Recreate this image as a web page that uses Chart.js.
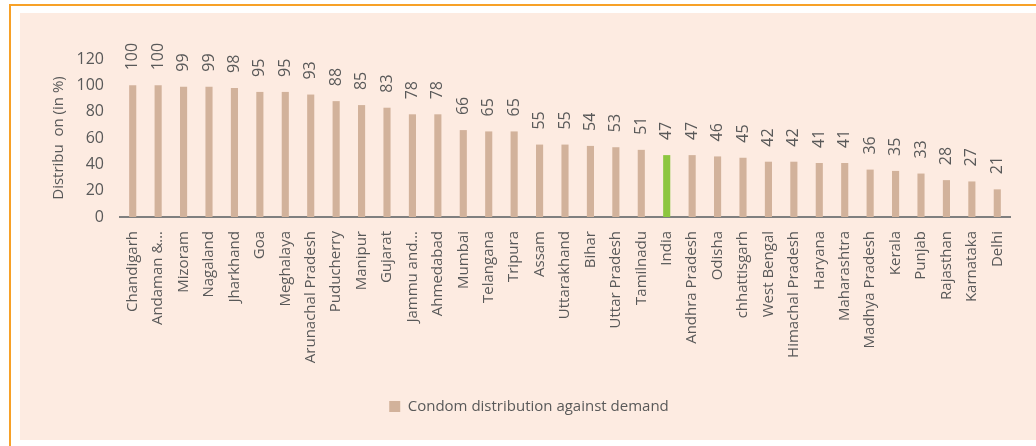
<!DOCTYPE html>
<html>
<head>
<meta charset="utf-8">
<script src="https://cdn.jsdelivr.net/npm/chart.js"></script>
<style>
  html, body { margin: 0; padding: 0; background: #fff; width: 1036px; height: 446px; overflow: hidden; }
  #frame { position: absolute; left: 9px; top: 4px; width: 1040px; height: 460px;
           border-left: 2px solid #f7a128; border-top: 2px solid #f7a128; }
  #panel { position: absolute; left: 20px; top: 13px; width: 1016px; height: 427px; background: #fdebe1; }
  #chart { position: absolute; left: 0; top: 0; }
</style>
</head>
<body>
<div id="frame"></div>
<div id="panel"></div>
<canvas id="chart" width="1036" height="446"></canvas>
<script>
const states = ['Chandigarh', 'Andaman &…', 'Mizoram', 'Nagaland', 'Jharkhand', 'Goa', 'Meghalaya',
  'Arunachal Pradesh', 'Puducherry', 'Manipur', 'Gujarat', 'Jammu and…', 'Ahmedabad', 'Mumbai',
  'Telangana', 'Tripura', 'Assam', 'Uttarakhand', 'Bihar', 'Uttar Pradesh', 'Tamilnadu', 'India',
  'Andhra Pradesh', 'Odisha', 'chhattisgarh', 'West Bengal', 'Himachal Pradesh', 'Haryana',
  'Maharashtra', 'Madhya Pradesh', 'Kerala', 'Punjab', 'Rajasthan', 'Karnataka', 'Delhi'];
const distribution = [100, 100, 99, 99, 98, 95, 95, 93, 88, 85, 83, 78, 78, 66, 65, 65, 55, 55, 54, 53,
  51, 47, 47, 46, 45, 42, 42, 41, 41, 36, 35, 33, 28, 27, 21];
const yTicks = [0, 20, 40, 60, 80, 100, 120];

const tan = '#d2b29b';
const green = '#8dc63f';
const grey = '#595959';
const fontFamily = '"Open Sans", sans-serif';

const barColors = states.map(s => s === 'India' ? green : tan);

// rotated value labels above each bar
const valueLabels = {
  id: 'valueLabels',
  afterDatasetsDraw(chart) {
    const ctx = chart.ctx;
    const meta = chart.getDatasetMeta(0);
    ctx.save();
    ctx.fillStyle = grey;
    ctx.font = '16px ' + fontFamily;
    ctx.textAlign = 'left';
    ctx.textBaseline = 'middle';
    meta.data.forEach((bar, i) => {
      ctx.save();
      ctx.translate(bar.x, bar.y - 15);
      ctx.rotate(-Math.PI / 2);
      ctx.fillText(String(distribution[i]), 0, 0);
      ctx.restore();
    });
    ctx.restore();
  }
};

const data = {
  labels: states,
  datasets: [{
    label: 'Condom distribution against demand',
    data: distribution,
    backgroundColor: barColors,
    barPercentage: 0.56,
    categoryPercentage: 0.5
  }]
};

const options = {
  responsive: false,
  animation: false,
  layout: { padding: { left: 48, right: 26, top: 59, bottom: 22 } },
  plugins: {
    legend: {
      position: 'bottom',
      labels: { color: grey, font: { size: 15, family: fontFamily }, boxWidth: 11, boxHeight: 11, padding: 10 }
    },
    tooltip: { enabled: false }
  },
  scales: {
    x: {
      grid: { display: false },
      border: { color: '#7f7f7f', width: 2 },
      ticks: { color: grey, font: { size: 15, family: fontFamily }, minRotation: 90, maxRotation: 90, autoSkip: false, padding: 6 },
      afterFit(scale) { scale.height = 172; }
    },
    y: {
      min: 0,
      max: 120,
      afterBuildTicks(scale) { scale.ticks = yTicks.map(v => ({ value: v })); },
      grid: { display: false },
      border: { display: false },
      ticks: { color: grey, font: { size: 16, family: fontFamily }, padding: 8 },
      title: { display: true, text: 'Distribu  on (in %)', color: grey, font: { size: 15, family: fontFamily }, padding: 2 },
      afterFit(scale) { scale.width = 72; }
    }
  }
};

new Chart(document.getElementById('chart'), {
  type: 'bar',
  data: data,
  options: options,
  plugins: [valueLabels]
});
</script>
</body>
</html>
